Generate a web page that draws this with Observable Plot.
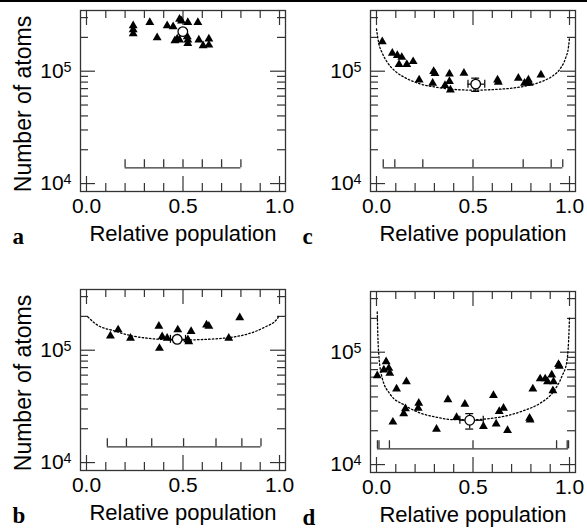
<!DOCTYPE html>
<html><head><meta charset="utf-8">
<script src="https://cdn.jsdelivr.net/npm/d3@7"></script>
<script src="https://cdn.jsdelivr.net/npm/@observablehq/plot@0.6"></script>
<style>
body{margin:0;background:#fff;}
#root{position:relative;width:587px;height:528px;overflow:hidden;border-top:2px solid #000;box-sizing:border-box;}
</style></head><body><div id="root"></div>
<script>
// ---- axis ticks ----
const xMajor = [0, 0.5, 1];
const xMinor = [0.1, 0.2, 0.3, 0.4, 0.6, 0.7, 0.8, 0.9];
const yMajor = [1e4, 1e5];
const yMinor = [2e4, 3e4, 4e4, 5e4, 6e4, 7e4, 8e4, 9e4, 2e5, 3e5];
const xTitle = "Relative population";
const yTitle = "Number of atoms";

// ---- panel a ----
const aX = [0.242,0.242,0.242,0.328,0.366,0.418,0.449,0.482,0.492,0.525,0.577,0.458,0.470,0.482,0.522,0.525,0.525,0.582,0.604,0.634,0.634];
const aY = [2.54e5,2.34e5,2.16e5,2.72e5,1.99e5,2.54e5,2.49e5,2.91e5,2.80e5,2.72e5,2.72e5,1.87e5,1.94e5,1.90e5,2.03e5,1.90e5,1.77e5,1.90e5,1.69e5,1.94e5,1.71e5];
const aMean = [0.499, 2.25e5];
const aBracket = [0.2, 0.3, 0.4, 0.5, 0.6, 0.7, 0.8];

// ---- panel c ----
const cX = [0.03,0.082,0.108,0.131,0.117,0.157,0.19,0.221,0.296,0.303,0.291,0.378,0.355,0.378,0.383,0.453,0.627,0.631,0.735,0.767,0.787,0.791,0.852];
const cY = [1.83e5,1.45e5,1.38e5,1.33e5,1.15e5,1.15e5,1.22e5,8.38e4,9.94e4,9.54e4,7.82e4,9.47e4,7.47e4,8.11e4,6.83e4,9.6e4,8.38e4,7.98e4,8.67e4,7.82e4,8.38e4,7.82e4,9.27e4];
const cMean = [0.514, 7.67e4];
const cErrY = [6.61e4, 8.67e4];
const cErrX = [0.474, 0.561];
const cCurveX = [0.0,0.012,0.03,0.056,0.099,0.16,0.23,0.317,0.404,0.509,0.613,0.70,0.787,0.857,0.909,0.953,0.979,0.995,1.0];
const cCurveY = [2.38e5,1.77e5,1.45e5,1.20e5,9.94e4,8.55e4,7.67e4,7.17e4,6.88e4,6.78e4,6.88e4,7.06e4,7.47e4,8.11e4,8.98e4,1.06e5,1.30e5,1.66e5,1.99e5];
const cBracket = [0.035, 0.095, 0.24, 0.5, 0.76, 0.905, 0.965];

// ---- panel b ----
const bX = [0.124,0.164,0.228,0.375,0.392,0.378,0.418,0.473,0.525,0.53,0.542,0.622,0.634,0.737,0.794];
const bY = [1.34e5,1.52e5,1.28e5,1.64e5,1.32e5,1.04e5,1.28e5,1.52e5,1.24e5,1.19e5,1.47e5,1.68e5,1.64e5,1.28e5,1.95e5];
const bMean = [0.47, 1.25e5];
const bErrY = [1.18e5, 1.32e5];
const bErrX = [0.435, 0.513];
const bCurveX = [0.007,0.055,0.142,0.228,0.314,0.418,0.487,0.573,0.66,0.746,0.832,0.919,0.99,0.997];
const bCurveY = [1.98e5,1.68e5,1.49e5,1.35e5,1.28e5,1.24e5,1.23e5,1.24e5,1.26e5,1.30e5,1.39e5,1.59e5,1.92e5,2.05e5];
const bBracket = [0.108, 0.207, 0.338, 0.503, 0.671, 0.805, 0.904];

// ---- panel d ----
const dX = [0.050,0.038,0.064,0.069,0.004,0.155,0.104,0.219,0.216,0.150,0.141,0.085,0.370,0.458,0.415,0.311,0.554,0.620,0.679,0.606,0.636,0.658,0.793,0.796,0.810,0.848,0.874,0.886,0.908,0.917,0.914,0.943,0.947];
const dY = [8.24e4,6.96e4,7.19e4,6.49e4,6.19e4,5.48e4,4.72e4,3.52e4,3.18e4,3.14e4,2.84e4,2.39e4,3.78e4,3.45e4,2.63e4,2.07e4,2.19e4,2.3e4,2.01e4,4.12e4,2.97e4,3.18e4,2.59e4,2.49e4,4.72e4,5.8e4,5.8e4,5.48e4,6.28e4,5.48e4,4.54e4,7.8e4,7.5e4];
const dMean = [0.483, 2.48e4];
const dErrY = [2.07e4, 2.84e4];
const dErrX = [0.432, 0.553];
const dCurveX = [0.004,0.007,0.012,0.030,0.073,0.141,0.228,0.315,0.401,0.503,0.589,0.675,0.762,0.848,0.917,0.960,0.986,0.995,1.0];
const dCurveY = [2.28e5,1.42e5,9.44e4,5.86e4,4.18e4,3.41e4,2.87e4,2.63e4,2.51e4,2.51e4,2.57e4,2.72e4,3.02e4,3.52e4,4.47e4,6.07e4,8.24e4,1.24e5,2.05e5];
const dBracket = [0.005, 0.013, 0.067, 0.5, 0.933, 0.988, 0.995];

const bracketLevel = 1.38e4;
const bracketTop = 1.63e4;

const panels = [
  {letter:"a", left:0,   top:0,   ytitle:true,  X:aX, Y:aY, mean:aMean, bracket:aBracket},
  {letter:"c", left:290, top:0,   ytitle:false, X:cX, Y:cY, mean:cMean, errY:cErrY, errX:cErrX, curveX:cCurveX, curveY:cCurveY, bracket:cBracket},
  {letter:"b", left:0,   top:279, ytitle:true,  X:bX, Y:bY, mean:bMean, errY:bErrY, errX:bErrX, curveX:bCurveX, curveY:bCurveY, bracket:bBracket},
  {letter:"d", left:290, top:281, ytitle:false, X:dX, Y:dY, mean:dMean, errY:dErrY, errX:dErrX, curveX:dCurveX, curveY:dCurveY, bracket:dBracket}
];

const SANS = "'Liberation Sans', Arial, Helvetica, sans-serif";
const SERIF = "'Liberation Serif', 'Times New Roman', serif";
const ink = "#333";
const W = 205, H = 181;

function makePanel(p) {
  const marks = [
    Plot.frame({stroke: ink, strokeWidth: 1.3}),
    Plot.ruleX(xMinor, {x: d => d, insetTop: H - 8, stroke: ink, strokeWidth: 1.2}),
    Plot.ruleX(xMinor, {x: d => d, insetBottom: H - 8, stroke: ink, strokeWidth: 1.2}),
    Plot.ruleX(xMajor, {x: d => d, insetTop: H - 15, stroke: ink, strokeWidth: 1.2}),
    Plot.ruleX(xMajor, {x: d => d, insetBottom: H - 15, stroke: ink, strokeWidth: 1.2}),
    Plot.ruleY(yMinor, {y: d => d, insetRight: W - 8, stroke: ink, strokeWidth: 1.2}),
    Plot.ruleY(yMinor, {y: d => d, insetLeft: W - 8, stroke: ink, strokeWidth: 1.2}),
    Plot.ruleY(yMajor, {y: d => d, insetRight: W - 15, stroke: ink, strokeWidth: 1.2}),
    Plot.ruleY(yMajor, {y: d => d, insetLeft: W - 15, stroke: ink, strokeWidth: 1.2}),
    // bracket
    Plot.ruleY([bracketLevel], {y: d => d, x1: p.bracket[0], x2: p.bracket[p.bracket.length - 1], stroke: ink, strokeWidth: 1.3}),
    Plot.ruleX(p.bracket, {x: d => d, y1: bracketLevel, y2: bracketTop, stroke: ink, strokeWidth: 1.3})
  ];
  if (p.curveX) {
    const curve = p.curveX.map((x, i) => ({x, y: p.curveY[i]}));
    marks.push(Plot.line(curve, {x: "x", y: "y", curve: "monotone-x", stroke: "#000", strokeWidth: 1.3, strokeDasharray: "1.5,2.2"}));
  }
  const tri = p.X.map((x, i) => ({x, y: p.Y[i]}));
  marks.push(Plot.dot(tri, {x: "x", y: "y", symbol: "triangle", r: 3.3, fill: "#000", stroke: "none"}));
  if (p.errY) {
    marks.push(Plot.ruleX([p.mean], {x: d => d[0], y1: p.errY[0], y2: p.errY[1], stroke: "#000", strokeWidth: 1.2}));
    marks.push(Plot.ruleY(p.errY, {y: d => d, x1: p.mean[0], x2: p.mean[0], insetLeft: -4, insetRight: -4, stroke: "#000", strokeWidth: 1.2}));
    marks.push(Plot.ruleY([p.mean], {y: d => d[1], x1: p.errX[0], x2: p.errX[1], stroke: "#000", strokeWidth: 1.2}));
    marks.push(Plot.ruleX(p.errX, {x: d => d, y1: p.mean[1], y2: p.mean[1], insetTop: -4, insetBottom: -4, stroke: "#000", strokeWidth: 1.2}));
  }
  marks.push(Plot.dot([p.mean], {x: d => d[0], y: d => d[1], r: 4.8, fill: "#fff", stroke: "#000", strokeWidth: 1.3}));
  // tick labels
  marks.push(Plot.text(xMajor, {x: d => d, frameAnchor: "bottom", lineAnchor: "top", dy: 7, text: d => d.toFixed(1), fontSize: 21, fontFamily: SANS, fill: "#000"}));
  marks.push(Plot.text(yMajor, {y: d => d, frameAnchor: "left", dx: -9, textAnchor: "end", text: d => "10^" + Math.round(Math.log10(d)), fontSize: 21, fontFamily: SANS, fill: "#000"}));
  marks.push(Plot.text([xTitle], {frameAnchor: "bottom", textAnchor: "middle", lineAnchor: "top", dy: 34, fontSize: 22, fontFamily: SANS, fill: "#000"}));
  if (p.ytitle) {
    marks.push(Plot.text([yTitle], {frameAnchor: "left", textAnchor: "middle", lineAnchor: "middle", dx: -57, dy: 3, rotate: -90, fontSize: 23, fontFamily: SANS, fill: "#000"}));
  }
  marks.push(Plot.text([p.letter], {frameAnchor: "bottom-left", dx: -68, dy: 52, textAnchor: "start", lineAnchor: "bottom", fontSize: 23, fontWeight: "bold", fontFamily: SERIF, fill: "#000"}));

  const svg = Plot.plot({
    width: 290, height: 260,
    marginLeft: 80, marginRight: 5, marginTop: 10, marginBottom: 69,
    x: {domain: [-0.031, 1.031], axis: null},
    y: {type: "log", domain: [8.5e3, 3.47e5], axis: null},
    style: {background: "transparent", overflow: "visible", fontFamily: SANS},
    marks
  });
  svg.querySelectorAll("text").forEach(t => {
    const m = t.textContent.match(/^10\^(\d)$/);
    if (m) {
      t.textContent = "10";
      const ts = document.createElementNS("http://www.w3.org/2000/svg", "tspan");
      ts.setAttribute("dy", "-0.42em");
      ts.setAttribute("font-size", "0.68em");
      ts.textContent = m[1];
      t.appendChild(ts);
    }
  });
  svg.style.position = "absolute";
  svg.style.left = p.left + "px";
  svg.style.top = (p.top - 2) + "px";
  return svg;
}

const root = document.getElementById("root");
panels.forEach(p => root.appendChild(makePanel(p)));
</script>
</body></html>
